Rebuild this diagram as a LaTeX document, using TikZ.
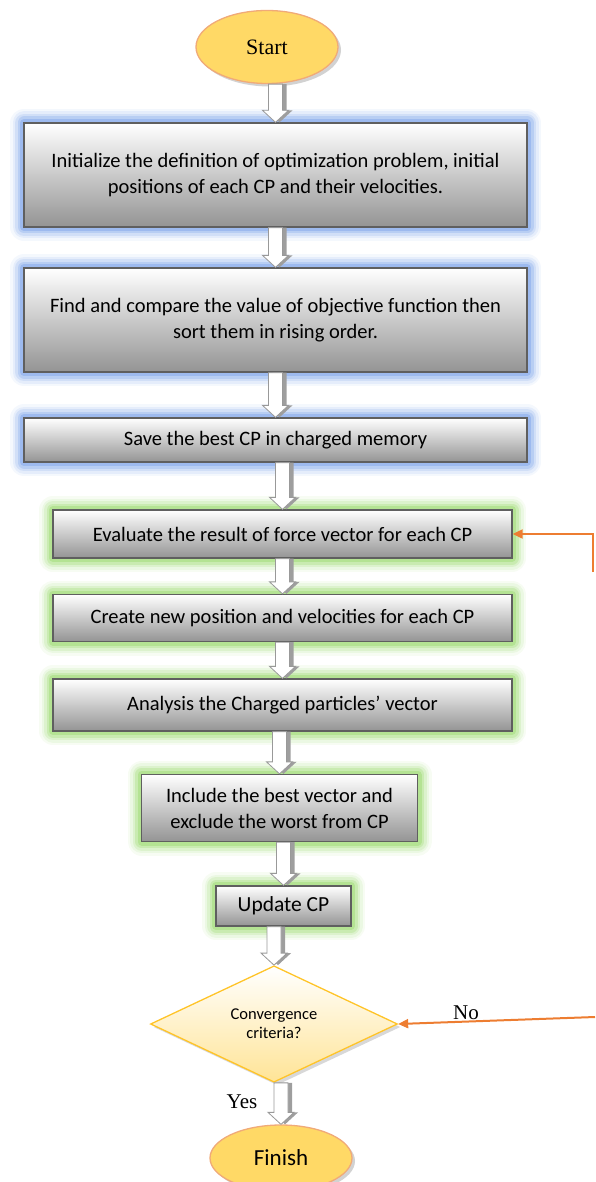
\documentclass[tikz,border=0pt]{standalone}
\usepackage{fontspec}
\setmainfont{Liberation Serif}
\newfontfamily\bodyfont{Carlito}
\usepackage{tikz}
\usetikzlibrary{
	arrows.meta,
	calc,
	positioning,
	shapes.geometric,
	shadows
}
\definecolor{TermYellow}{RGB}{255,217,102}
\definecolor{TermEdge}{RGB}{240,170,120}
\definecolor{BoxGray}{RGB}{95,95,95}
\definecolor{GlowBlue}{RGB}{105,150,230}
\definecolor{GlowGreen}{RGB}{140,212,90}
\definecolor{CondEdge}{RGB}{255,196,40}
\definecolor{CondFill}{RGB}{255,228,150}
\definecolor{LoopOrange}{RGB}{237,125,49}

\begin{document}
\begin{tikzpicture}[x=1pt, y=-1pt,
		term/.style={ellipse, draw=TermEdge, line width=1.3pt, fill=TermYellow, inner sep=0pt,
			minimum width=142, drop shadow={shadow xshift=3pt, shadow yshift=-3pt, fill=black!35}},
		box/.style={rectangle, draw=BoxGray, line width=1.3pt, top color=white, bottom color=black!42,
			inner sep=0pt, align=center, font=\bodyfont\fontsize{20.5}{26}\selectfont},
		glow/.style={preaction={draw=#1, line width=28pt, opacity=.07, line join=round},
			preaction={draw=#1, line width=23pt, opacity=.11, line join=round},
			preaction={draw=#1, line width=18pt, opacity=.16, line join=round},
			preaction={draw=#1, line width=13pt, opacity=.24, line join=round},
			preaction={draw=#1, line width=8pt, opacity=.35, line join=round}},
		arrowshade/.style={fill=black!38, draw=none},
		arrowbody/.style={fill=white, draw=black!40, line width=0.8pt, line join=miter},
		loop/.style={draw=LoopOrange, line width=2pt, -{Triangle[length=10pt, width=9pt]}},
		answer/.style={font=\fontsize{21}{24}\selectfont, inner sep=0pt}]
	\useasboundingbox (0,0) rectangle (595,1182);
	% terminals and process boxes
	\node[term, minimum height=73, font=\fontsize{22}{24}\selectfont] (S) at (267,47) {Start};
	\node[box, glow=GlowBlue, minimum width=503, minimum height=104] (B1) at (275.5,175)
		{Initialize the definition of optimization problem, initial\\positions of each CP and their velocities.};
	\node[box, glow=GlowBlue, minimum width=503, minimum height=104] (B2) at (275.5,320)
		{Find and compare the value of objective function then\\sort them in rising order.};
	\node[box, glow=GlowBlue, minimum width=503, minimum height=44] (B3) at (275.5,440)
		{Save the best CP in charged memory};
	\node[box, glow=GlowGreen, minimum width=459, minimum height=48] (B4) at (282.5,534)
		{Evaluate the result of force vector for each CP};
	\node[box, glow=GlowGreen, minimum width=459, minimum height=47] (B5) at (282.5,618)
		{Create new position and velocities for each CP};
	\node[box, glow=GlowGreen, minimum width=459, minimum height=52] (B6) at (282.5,705)
		{Analysis the Charged particles’ vector};
	\node[box, glow=GlowGreen, minimum width=276, minimum height=67] (B7) at (279.5,808)
		{Include the best vector and\\exclude the worst from CP};
	\node[box, glow=GlowGreen, minimum width=135, minimum height=40, font=\bodyfont\fontsize{21.5}{24}\selectfont] (B8) at (283.5,906)
		{Update CP};
	\node[diamond, draw=CondEdge, line width=1.3pt, top color=white, bottom color=CondFill, inner sep=0pt,
		minimum width=247, minimum height=108, align=center, font=\bodyfont\fontsize{16.5}{19}\selectfont,
		drop shadow={shadow xshift=3pt, shadow yshift=-3pt, fill=black!30}] (Q) at (274,1024)
		{Convergence\\criteria?};
	\node[term, minimum height=66, font=\bodyfont\fontsize{23}{26}\selectfont] (F) at (281,1158) {Finish};
	% hollow block arrows
	\foreach \a/\b in {S/B1, B1/B2, B2/B3, B3/B4, B4/B5, B5/B6, B6/B7, B7/B8, B8/Q, Q/F}{
		\coordinate (P) at (\b.north |- \a.south);
		\coordinate (T) at (\b.north);
		\foreach \d/\st in {4/arrowshade, 0/arrowbody}
		\draw[\st] ($(P)+(-7+\d,0)$) -- ($(T)+(-7+\d,-12)$) -- ($(T)+(-13+\d,-12)$) -- ($(T)+(\d,0)$)
			-- ($(T)+(13+\d,-12)$) -- ($(T)+(7+\d,-12)$) -- ($(P)+(7+\d,0)$) -- cycle;
	}
	% loop back (No)
	\coordinate (R1) at (593,572);
	\coordinate (R2) at (B4.east -| R1);
	\coordinate (R3) at (595,1017);
	\draw[loop] (R1) -- (R2) -- (B4.east);
	\draw[loop] (R3) -- (Q.east);
	\node[answer] (N) at (466,1013) {No};
	\node[answer] (Y) at (242,1102) {Yes};
\end{tikzpicture}
\end{document}
